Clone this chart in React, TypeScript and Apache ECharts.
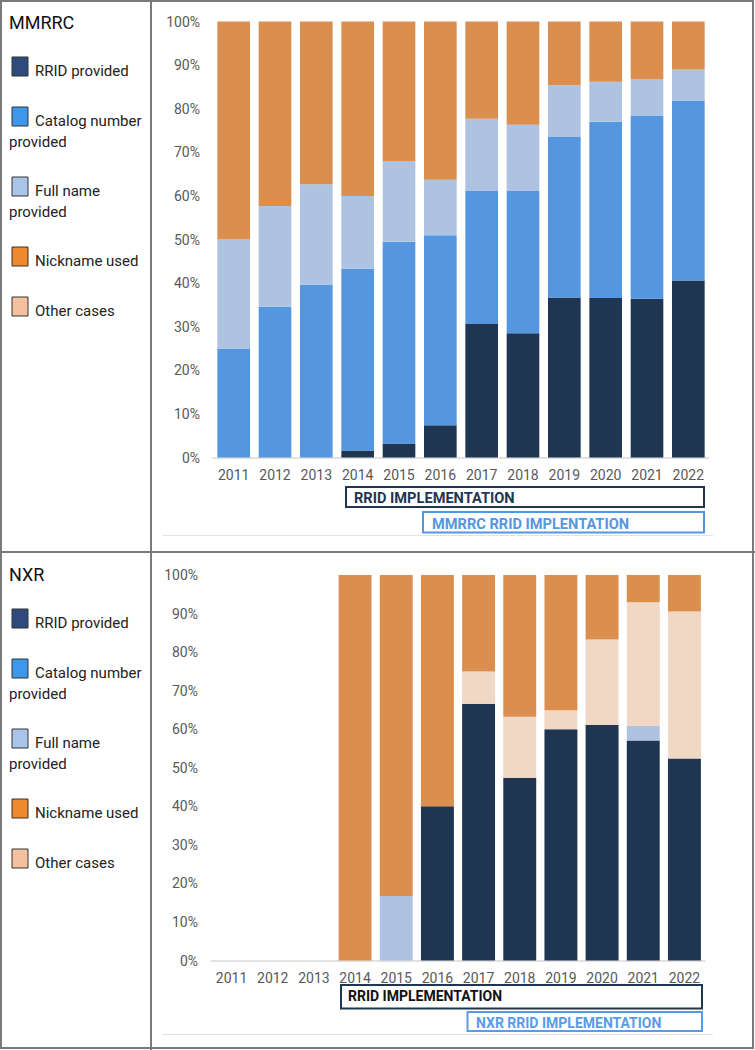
import React, { useEffect, useRef } from "react";
import * as echarts from "echarts";

const years = ["2011", "2012", "2013", "2014", "2015", "2016", "2017", "2018", "2019", "2020", "2021", "2022"];
const yTicks = [0, 100, 10];

// stacked order bottom -> top: RRID, Catalog, Full name, Other, Nickname
const mmrrcRRID = [0, 0, 0, 1.6, 3.2, 7.4, 30.6, 28.5, 36.7, 36.6, 36.4, 40.6];
const mmrrcCatalog = [25, 34.6, 39.6, 41.7, 46.3, 43.6, 30.5, 32.6, 36.8, 40.4, 41.9, 41.3];
const mmrrcFullName = [25, 23.1, 23.1, 16.7, 18.5, 12.7, 16.6, 15.2, 11.9, 9.2, 8.5, 7.1];
const mmrrcOther = [0, 0, 0, 0, 0, 0, 0, 0, 0, 0, 0, 0];
const mmrrcNickname = [50, 42.3, 37.3, 40.0, 32.0, 36.3, 22.3, 23.7, 14.6, 13.8, 13.2, 11.0];

const nxrRRID = [0, 0, 0, 0, 0, 40, 66.6, 47.4, 60, 61.1, 57.1, 52.4];
const nxrCatalog = [0, 0, 0, 0, 0, 0, 0, 0, 0, 0, 0, 0];
const nxrFullName = [0, 0, 0, 0, 16.7, 0, 0, 0, 0, 0, 3.7, 0];
const nxrOther = [0, 0, 0, 0, 0, 0, 8.4, 15.8, 4.9, 22.2, 32.1, 38.1];
const nxrNickname = [0, 0, 0, 100, 83.3, 60, 25, 36.8, 35.1, 16.7, 7.1, 9.5];

const seriesNames = ["RRID provided", "Catalog number provided", "Full name provided", "Other cases", "Nickname used"];
const barColors = ["#1f3653", "#5596e0", "#aec3e2", "#f0d8c5", "#db8f4f"];

const legendLines = [["RRID provided"], ["Catalog number", "provided"], ["Full name", "provided"], ["Nickname used"], ["Other cases"]];
const legendColors = ["#2f4b7c", "#3d97ea", "#a9c5ea", "#ef8a2e", "#f3c19d"];
const panelTitles = ["MMRRC", "NXR"];
const bannerMain = "RRID IMPLEMENTATION";
const bannerSub = ["MMRRC RRID IMPLENTATION", "NXR RRID IMPLEMENTATION"];

export default function App() {
  const ref = useRef<HTMLDivElement>(null);
  useEffect(() => {
    if (!ref.current) return;
    const chart = echarts.init(ref.current, null, { renderer: "svg" });
    const font = "Roboto";
    const mmrrc = [mmrrcRRID, mmrrcCatalog, mmrrcFullName, mmrrcOther, mmrrcNickname];
    const nxr = [nxrRRID, nxrCatalog, nxrFullName, nxrOther, nxrNickname];

    const series: any[] = [];
    [mmrrc, nxr].forEach((set, gi) => {
      set.forEach((data, si) => {
        series.push({
          type: "bar",
          name: seriesNames[si],
          stack: "s" + gi,
          xAxisIndex: gi,
          yAxisIndex: gi,
          data,
          barCategoryGap: gi === 0 ? "21%" : "20%",
          itemStyle: { color: barColors[si] },
        });
      });
    });

    const graphic: any[] = [];
    // frame
    graphic.push({ type: "rect", shape: { x: 1, y: 1, width: 752, height: 1047 }, style: { fill: "none", stroke: "#7a7a7a", lineWidth: 2 }, z: 100 });
    graphic.push({ type: "line", shape: { x1: 151, y1: 0, x2: 151, y2: 1050 }, style: { stroke: "#7a7a7a", lineWidth: 2 }, z: 100 });
    graphic.push({ type: "line", shape: { x1: 0, y1: 552, x2: 755, y2: 552 }, style: { stroke: "#7a7a7a", lineWidth: 2 }, z: 100 });

    const boxY = [57, 107, 177, 247, 297];
    const textY = [71, 121, 191, 261, 311];
    [0, 552].forEach((y0, pi) => {
      graphic.push({ type: "text", x: 9, y: y0 + 22, style: { text: panelTitles[pi], fontSize: 18, fontFamily: font, fill: "#111", verticalAlign: "middle" } });
      legendLines.forEach((lines, i) => {
        graphic.push({ type: "rect", shape: { x: 12, y: y0 + boxY[i], width: 16, height: 19 }, style: { fill: legendColors[i], stroke: "#333", lineWidth: 1 } });
        graphic.push({ type: "text", x: 35, y: y0 + textY[i], style: { text: lines[0], fontSize: 15, fontFamily: font, fill: "#222", verticalAlign: "middle" } });
        if (lines[1]) {
          graphic.push({ type: "text", x: 9, y: y0 + textY[i] + 21, style: { text: lines[1], fontSize: 15, fontFamily: font, fill: "#222", verticalAlign: "middle" } });
        }
      });
    });

    // banners top
    graphic.push({ type: "rect", shape: { x: 346, y: 487, width: 358, height: 20 }, style: { fill: "#fff", stroke: "#1f3653", lineWidth: 2 } });
    graphic.push({ type: "text", x: 354, y: 498, style: { text: bannerMain, fontSize: 14.6, fontWeight: "bold", fontFamily: font, fill: "#1f3653", verticalAlign: "middle" } });
    graphic.push({ type: "rect", shape: { x: 423, y: 512, width: 281, height: 20.5 }, style: { fill: "#fff", stroke: "#5596e0", lineWidth: 2 } });
    graphic.push({ type: "text", x: 432, y: 523.5, style: { text: bannerSub[0], fontSize: 14.6, fontWeight: "bold", fontFamily: font, fill: "#5596e0", verticalAlign: "middle" } });
    graphic.push({ type: "line", shape: { x1: 162, y1: 535.5, x2: 713, y2: 535.5 }, style: { stroke: "#e3e3e3", lineWidth: 1 } });
    // banners bottom
    graphic.push({ type: "rect", shape: { x: 341, y: 985, width: 361, height: 23.5 }, style: { fill: "#fff", stroke: "#1f3653", lineWidth: 2 } });
    graphic.push({ type: "text", x: 348, y: 996, style: { text: bannerMain, fontSize: 14, fontWeight: "bold", fontFamily: font, fill: "#111", verticalAlign: "middle" } });
    graphic.push({ type: "rect", shape: { x: 467.5, y: 1012, width: 234.5, height: 19 }, style: { fill: "#fff", stroke: "#5a9be6", lineWidth: 2 } });
    graphic.push({ type: "text", x: 476, y: 1022.5, style: { text: bannerSub[1], fontSize: 14, fontWeight: "bold", fontFamily: font, fill: "#5a9be6", verticalAlign: "middle" } });
    graphic.push({ type: "line", shape: { x1: 162, y1: 1034.5, x2: 713, y2: 1034.5 }, style: { stroke: "#e3e3e3", lineWidth: 1 } });

    const xAxis = (gi: number) => ({
      type: "category",
      gridIndex: gi,
      data: years,
      axisLine: { lineStyle: { color: "#d9d9d9", width: 1.5 } },
      axisTick: { show: false },
      axisLabel: { color: "#595959", fontSize: 14, fontFamily: font, margin: 10 },
    });
    const yAxis = (gi: number) => ({
      type: "value",
      gridIndex: gi,
      min: yTicks[0],
      max: yTicks[1],
      interval: yTicks[2],
      splitLine: { show: false },
      axisLine: { show: false },
      axisTick: { show: false },
      axisLabel: { color: "#595959", fontSize: 14, fontFamily: font, margin: 13, formatter: "{value}%" },
    });

    chart.setOption({
      animation: false,
      backgroundColor: "#fff",
      grid: [
        { left: 213, width: 496, top: 21.5, height: 436 },
        { left: 211, width: 494, top: 575, height: 385.5 },
      ],
      xAxis: [xAxis(0), xAxis(1)],
      yAxis: [yAxis(0), yAxis(1)],
      series,
      graphic,
    });
    return () => chart.dispose();
  }, []);
  return <div ref={ref} style={{ position: "absolute", left: 0, top: 0, width: 755, height: 1050 }} />;
}
